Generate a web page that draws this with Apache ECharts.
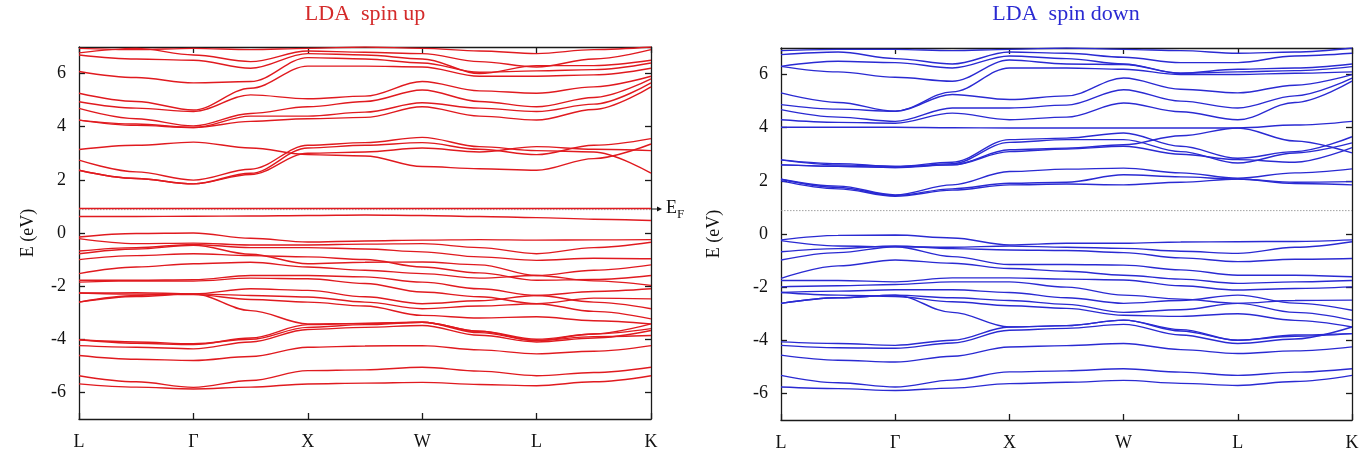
<!DOCTYPE html>
<html><head><meta charset="utf-8">
<script src="https://cdn.jsdelivr.net/npm/echarts@6/dist/echarts.min.js"></script>
<style>html,body{margin:0;padding:0;background:#fff}#c{width:1365px;height:459px}</style>
</head><body><div id="c"></div>
<script>
// k-path labels and sample positions (high-symmetry points at integers)
const kLabels = ['L', 'Γ', 'X', 'W', 'L', 'K'];
const kPoints = [0, 0.5, 1, 1.5, 2, 2.5, 3, 3.5, 4, 4.5, 5];
const yTicks = [-6, -4, -2, 0, 2, 4, 6];
const fermiLevel = 0.88;

// ---- spin up (left) ----
const upConduction = [
  [6.95, 6.90, 6.95, 6.90, 6.95, 7.00, 6.95, 6.85, 6.75, 6.90, 7.00],
  [6.78, 6.95, 6.70, 6.45, 6.85, 6.80, 6.75, 6.45, 6.25, 6.55, 6.90],
  [6.70, 6.55, 6.50, 6.20, 6.75, 6.70, 6.55, 6.00, 6.30, 6.30, 6.50],
  [6.08, 5.85, 5.65, 5.70, 6.60, 6.55, 6.40, 6.05, 6.10, 6.15, 6.40],
  [5.26, 4.95, 4.63, 5.45, 6.28, 6.28, 6.25, 5.90, 5.90, 5.95, 6.20],
  [4.94, 4.70, 4.57, 5.20, 5.05, 5.15, 5.70, 5.35, 5.26, 5.50, 5.90],
  [4.69, 4.30, 4.03, 4.50, 4.75, 4.95, 5.38, 4.95, 4.75, 5.10, 5.80],
  [4.25, 4.10, 3.97, 4.40, 4.40, 4.55, 4.90, 4.70, 4.57, 4.85, 5.65],
  [4.25, 4.05, 3.97, 4.20, 4.30, 4.35, 4.75, 4.40, 4.25, 4.65, 5.50],
  [3.14, 3.30, 3.42, 3.20, 2.95, 2.90, 2.50, 2.42, 2.36, 2.80, 3.35],
  [2.74, 2.30, 1.99, 2.40, 3.30, 3.40, 3.60, 3.25, 3.10, 3.05, 2.25],
  [2.36, 2.05, 1.85, 2.25, 3.20, 3.30, 3.40, 3.15, 2.95, 3.30, 3.55],
  [2.36, 2.05, 1.85, 2.20, 3.00, 3.05, 3.20, 3.05, 3.25, 3.15, 3.10]
];
const upFlat = [
  [0.92, 0.92, 0.92, 0.92, 0.92, 0.92, 0.92, 0.92, 0.92, 0.92, 0.92],
  [0.62, 0.62, 0.63, 0.64, 0.66, 0.68, 0.66, 0.62, 0.58, 0.52, 0.47]
];
const upValence = [
  [-0.15, -0.02, 0.00, -0.20, -0.34, -0.30, -0.27, -0.25, -0.27, -0.26, -0.25],
  [-0.21, -0.40, -0.38, -0.45, -0.45, -0.42, -0.40, -0.55, -0.78, -0.55, -0.35],
  [-0.68, -0.55, -0.43, -0.55, -0.55, -0.60, -0.71, -0.90, -1.03, -0.95, -0.97],
  [-0.78, -0.60, -0.46, -0.80, -1.16, -1.10, -1.09, -1.20, -1.60, -1.40, -1.20],
  [-1.00, -0.85, -0.78, -0.85, -0.90, -1.00, -1.28, -1.50, -1.78, -1.75, -1.60],
  [-1.53, -1.28, -1.16, -1.10, -1.28, -1.40, -1.53, -1.70, -1.60, -1.80, -1.97],
  [-1.78, -1.78, -1.76, -1.60, -1.60, -1.65, -1.85, -2.10, -2.35, -2.20, -2.10],
  [-1.85, -1.80, -1.81, -1.70, -1.72, -1.90, -2.22, -2.40, -2.66, -2.45, -2.48],
  [-2.26, -2.25, -2.29, -2.10, -2.16, -2.40, -2.66, -2.55, -2.35, -2.60, -2.85],
  [-2.60, -2.39, -2.29, -2.35, -2.41, -2.60, -2.85, -2.75, -2.66, -2.95, -3.23],
  [-2.26, -2.30, -2.32, -2.50, -2.60, -2.75, -3.10, -3.20, -3.15, -3.30, -3.42],
  [-2.60, -2.35, -2.29, -2.92, -3.42, -3.40, -3.36, -3.70, -4.05, -3.80, -3.60]
];
const upLower = [
  [-4.02, -4.10, -4.17, -4.00, -3.55, -3.45, -3.36, -3.70, -4.00, -3.80, -3.42],
  [-4.24, -4.30, -4.36, -4.10, -3.63, -3.55, -3.48, -3.85, -4.10, -3.95, -3.67],
  [-4.02, -4.15, -4.20, -3.95, -3.45, -3.40, -3.36, -3.75, -4.05, -3.90, -3.86],
  [-4.61, -4.75, -4.80, -4.65, -4.30, -4.25, -4.24, -4.40, -4.55, -4.45, -4.24],
  [-5.37, -5.60, -5.81, -5.55, -5.18, -5.15, -5.05, -5.20, -5.37, -5.25, -5.05],
  [-5.68, -5.80, -5.87, -5.80, -5.68, -5.65, -5.62, -5.70, -5.75, -5.60, -5.37]
];

// ---- spin down (right) ----
const downConduction = [
  [6.90, 6.95, 6.95, 6.90, 6.95, 7.00, 6.95, 6.90, 6.80, 6.85, 7.00],
  [6.75, 6.85, 6.60, 6.40, 6.85, 6.80, 6.65, 6.45, 6.45, 6.70, 6.80],
  [6.31, 6.50, 6.45, 6.25, 6.70, 6.60, 6.40, 6.05, 6.20, 6.25, 6.40],
  [6.31, 6.10, 5.90, 5.75, 6.55, 6.40, 6.38, 6.05, 6.10, 6.15, 6.30],
  [5.31, 4.95, 4.62, 5.35, 6.25, 6.25, 6.20, 6.00, 6.00, 6.05, 6.10],
  [4.87, 4.70, 4.62, 5.25, 5.06, 5.20, 5.87, 5.45, 5.31, 5.60, 6.00],
  [4.68, 4.40, 4.24, 4.74, 4.74, 4.85, 5.43, 5.00, 4.74, 5.20, 5.87],
  [4.30, 4.20, 4.17, 4.55, 4.30, 4.40, 4.93, 4.60, 4.30, 4.95, 5.75],
  [4.02, 4.02, 4.02, 4.00, 3.99, 3.99, 3.99, 3.99, 3.99, 4.10, 4.24],
  [2.79, 2.65, 2.54, 2.70, 3.55, 3.61, 3.80, 3.30, 2.85, 3.10, 3.66],
  [2.60, 2.55, 2.50, 2.65, 3.45, 3.55, 3.55, 3.10, 2.67, 3.05, 3.43],
  [2.60, 2.55, 2.50, 2.60, 3.17, 3.23, 3.36, 3.70, 3.99, 3.50, 3.05],
  [2.79, 2.60, 2.54, 2.60, 3.10, 3.20, 3.30, 3.00, 2.80, 2.70, 3.25],
  [2.06, 1.80, 1.47, 1.85, 2.35, 2.44, 2.48, 2.30, 2.10, 2.30, 2.45],
  [2.06, 1.75, 1.45, 1.70, 1.91, 1.95, 2.23, 2.15, 2.07, 1.95, 1.97],
  [2.00, 1.70, 1.42, 1.65, 1.85, 1.88, 1.85, 1.95, 2.07, 1.90, 1.85]
];
const downValence = [
  [-0.22, -0.05, -0.04, -0.15, -0.41, -0.35, -0.35, -0.30, -0.29, -0.28, -0.22],
  [-0.25, -0.45, -0.48, -0.50, -0.45, -0.50, -0.54, -0.65, -0.73, -0.50, -0.29],
  [-0.67, -0.55, -0.45, -0.55, -0.60, -0.62, -0.70, -0.90, -1.04, -0.95, -0.92],
  [-0.98, -0.70, -0.48, -0.85, -1.15, -1.15, -1.17, -1.35, -1.55, -1.55, -1.61],
  [-1.67, -1.20, -0.98, -1.10, -1.30, -1.40, -1.55, -1.70, -1.86, -1.80, -1.75],
  [-1.75, -1.75, -1.80, -1.65, -1.65, -1.70, -1.73, -1.95, -2.11, -2.05, -1.99],
  [-1.99, -1.95, -1.90, -1.80, -1.80, -2.00, -2.30, -2.45, -2.61, -2.50, -2.49],
  [-2.20, -2.15, -2.10, -2.10, -2.20, -2.40, -2.61, -2.50, -2.30, -2.60, -2.87],
  [-2.61, -2.40, -2.30, -2.40, -2.50, -2.65, -2.95, -2.85, -2.61, -2.95, -3.24],
  [-2.20, -2.30, -2.35, -2.55, -2.70, -2.80, -3.06, -3.10, -3.00, -3.25, -3.50],
  [-2.61, -2.40, -2.30, -2.95, -3.50, -3.45, -3.24, -3.60, -4.00, -3.80, -3.75]
];
const downLower = [
  [-4.06, -4.12, -4.19, -4.00, -3.50, -3.45, -3.24, -3.65, -4.00, -3.85, -3.75],
  [-4.19, -4.28, -4.30, -4.10, -3.62, -3.55, -3.40, -3.80, -4.12, -3.95, -3.50],
  [-4.56, -4.75, -4.82, -4.60, -4.25, -4.20, -4.12, -4.35, -4.50, -4.40, -4.25],
  [-5.32, -5.60, -5.76, -5.50, -5.19, -5.15, -5.07, -5.20, -5.32, -5.20, -5.07],
  [-5.76, -5.82, -5.89, -5.80, -5.63, -5.58, -5.51, -5.62, -5.70, -5.55, -5.32]
];

const RED = '#e01a1f', BLUE = '#2a2ad2';
const FONT = 'Liberation Serif';
const chart = echarts.init(document.getElementById('c'), null, {renderer: 'canvas'});

function bandSeries(bands, color, axisIdx) {
  return bands.map(b => ({
    type: 'line', xAxisIndex: axisIdx, yAxisIndex: axisIdx,
    data: kPoints.map((k, i) => [k, b[i]]),
    showSymbol: false, smooth: 0.35, smoothMonotone: 'x', silent: true,
    lineStyle: {color: color, width: 1.4}, z: 3
  }));
}
function fermiSeries(axisIdx) {
  return {
    type: 'line', xAxisIndex: axisIdx, yAxisIndex: axisIdx,
    data: [[0, fermiLevel], [5, fermiLevel]], showSymbol: false, silent: true,
    lineStyle: {color: '#8a8a8a', width: 0.8, type: [1.5, 1.5]}, z: 2
  };
}
const axisLineStyle = {color: '#1a1a1a', width: 1.3};
function xAxes(gridIndex) {
  return [
    {type: 'value', gridIndex, min: 0, max: 5, interval: 1, position: 'bottom',
     axisLine: {onZero: false, lineStyle: axisLineStyle}, splitLine: {show: false},
     axisTick: {inside: true, length: 6, lineStyle: axisLineStyle},
     axisLabel: {margin: 14, color: '#111', fontFamily: FONT, fontSize: 18,
       formatter: v => kLabels[Math.round(v)]}},
    {type: 'value', gridIndex, min: 0, max: 5, interval: 1, position: 'top',
     axisLine: {onZero: false, lineStyle: axisLineStyle}, splitLine: {show: false},
     axisTick: {inside: true, length: 6, lineStyle: axisLineStyle},
     axisLabel: {show: false}}
  ];
}
function yAxes(gridIndex, gap) {
  return [
    {type: 'value', gridIndex, min: -7, max: 7, position: 'left',
     name: 'E (eV)', nameLocation: 'middle', nameGap: gap, nameRotate: 90,
     nameTextStyle: {fontFamily: FONT, fontSize: 18, color: '#111'},
     axisLine: {onZero: false, lineStyle: axisLineStyle}, splitLine: {show: false},
     axisTick: {inside: true, length: 6, lineStyle: axisLineStyle, customValues: yTicks},
     axisLabel: {margin: 13, color: '#111', fontFamily: FONT, fontSize: 18, customValues: yTicks}},
    {type: 'value', gridIndex, min: -7, max: 7, position: 'right',
     axisLine: {onZero: false, lineStyle: axisLineStyle}, splitLine: {show: false},
     axisTick: {inside: true, length: 6, lineStyle: axisLineStyle, customValues: yTicks},
     axisLabel: {show: false}}
  ];
}

const xa = [...xAxes(0), ...xAxes(1)];
const ya = [...yAxes(0, 42), ...yAxes(1, 58)];

const series = [
  fermiSeries(0),
  ...bandSeries(upConduction, RED, 0),
  ...bandSeries(upFlat, RED, 0),
  ...bandSeries(upValence, RED, 0),
  ...bandSeries(upLower, RED, 0),
  fermiSeries(2),
  ...bandSeries(downConduction, BLUE, 2),
  ...bandSeries(downValence, BLUE, 2),
  ...bandSeries(downLower, BLUE, 2)
];

chart.setOption({
  animation: false,
  grid: [
    {left: 79, top: 47, width: 572, height: 372},
    {left: 781, top: 48, width: 571, height: 372}
  ],
  xAxis: xa,
  yAxis: ya,
  series: series,
  graphic: [
    {type: 'text', x: 365, y: 3, style: {text: 'LDA  spin up', fill: '#d42a2a', font: '22px "Liberation Serif"', align: 'center'}},
    {type: 'text', x: 1066, y: 3, style: {text: 'LDA  spin down', fill: '#2a2ad2', font: '22px "Liberation Serif"', align: 'center'}},
    {type: 'line', shape: {x1: 652, y1: 209, x2: 660, y2: 209}, style: {stroke: '#111', lineWidth: 1}},
    {type: 'polygon', shape: {points: [[662, 209], [657, 206.5], [657, 211.5]]}, style: {fill: '#111'}},
    {type: 'text', x: 666, y: 196, style: {text: '{e|E}{f|F}', rich: {
      e: {font: '18px "Liberation Serif"', fill: '#111'},
      f: {font: '13px "Liberation Serif"', fill: '#111', padding: [12, 0, 0, 0]}}}}
  ]
});
</script></body></html>
